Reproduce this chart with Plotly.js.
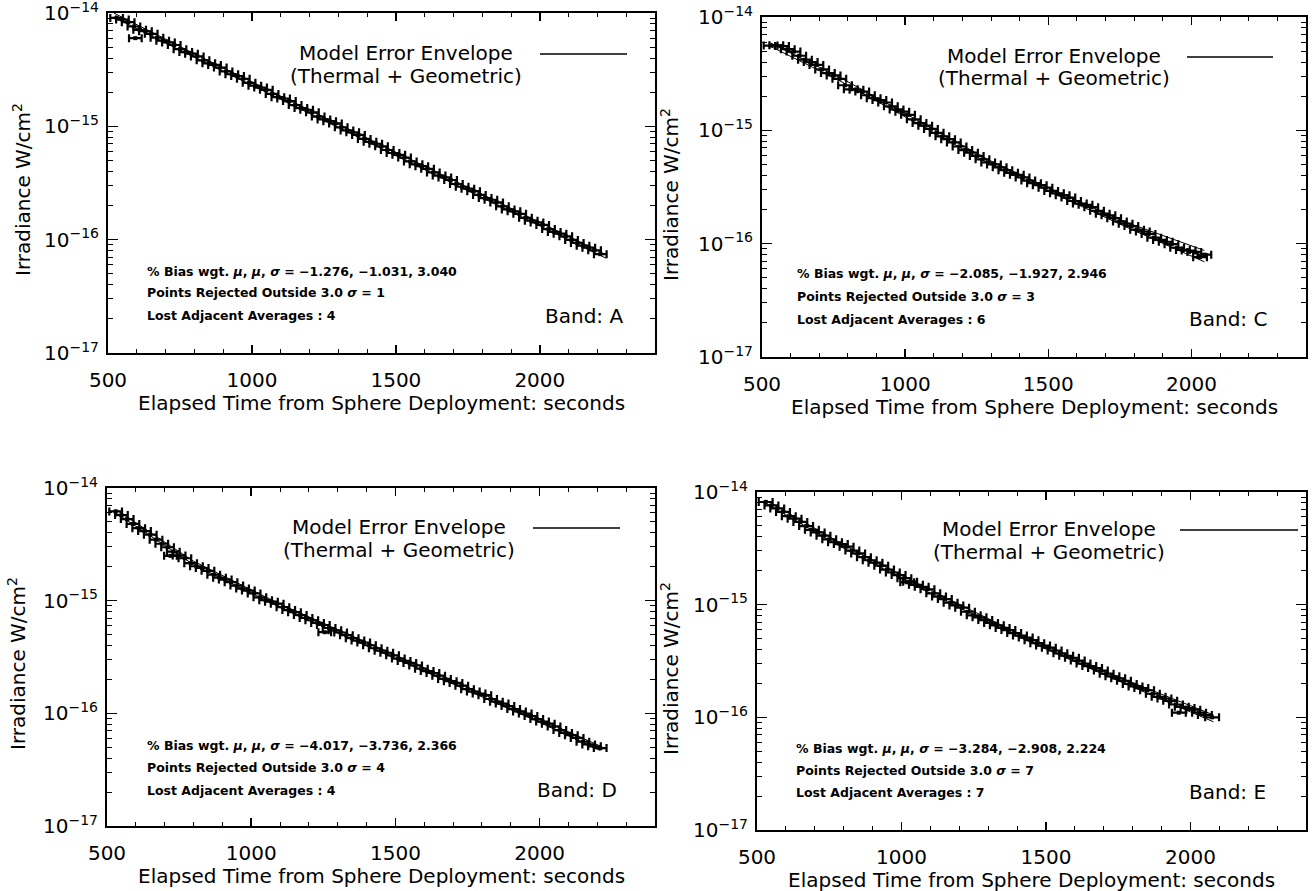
<!DOCTYPE html>
<html>
<head>
<meta charset="utf-8">
<script src="https://cdn.plot.ly/plotly-3.0.1.min.js"></script>
<style>
  html, body { margin: 0; padding: 0; background: #fff; }
  #chart { width: 1312px; height: 891px; }
</style>
</head>
<body>
<div id="chart"></div>
<script>
// ---------------- DATA ----------------
const xTickVals = [500, 1000, 1500, 2000];
const xTickText = ['500', '1000', '1500', '2000'];
const yTickVals = [1e-17, 1e-16, 1e-15, 1e-14];
const yTickText = ['10<sup>−17</sup>', '10<sup>−16</sup>', '10<sup>−15</sup>', '10<sup>−14</sup>'];

// Band A
const tA = [530,550,570,590,610,630,650,670,690,710,730,750,770,790,810,830,850,870,890,910,930,950,970,990,1010,1030,1050,1070,1090,1110,1130,1150,1170,1190,1210,1230,1250,1270,1290,1310,1330,1350,1370,1390,1410,1430,1450,1470,1490,1510,1530,1550,1570,1590,1610,1630,1650,1670,1690,1710,1730,1750,1770,1790,1810,1830,1850,1870,1890,1910,1930,1950,1970,1990,2010,2030,2050,2070,2090,2110,2130,2150,2170,2190,2210,595];
const irrA = [9.05e-15,8.75e-15,8.30e-15,7.60e-15,7.10e-15,6.90e-15,6.55e-15,6.05e-15,5.70e-15,5.50e-15,5.22e-15,4.80e-15,4.52e-15,4.38e-15,4.14e-15,3.82e-15,3.60e-15,3.48e-15,3.30e-15,3.05e-15,2.88e-15,2.78e-15,2.63e-15,2.42e-15,2.28e-15,2.20e-15,2.10e-15,1.93e-15,1.81e-15,1.76e-15,1.67e-15,1.54e-15,1.45e-15,1.40e-15,1.33e-15,1.22e-15,1.15e-15,1.11e-15,1.06e-15,9.80e-16,9.20e-16,8.85e-16,8.40e-16,7.75e-16,7.30e-16,7.02e-16,6.66e-16,6.18e-16,5.82e-16,5.60e-16,5.30e-16,4.90e-16,4.62e-16,4.45e-16,4.22e-16,3.92e-16,3.68e-16,3.54e-16,3.36e-16,3.10e-16,2.93e-16,2.82e-16,2.68e-16,2.48e-16,2.33e-16,2.25e-16,2.13e-16,1.97e-16,1.85e-16,1.78e-16,1.69e-16,1.56e-16,1.47e-16,1.42e-16,1.35e-16,1.24e-16,1.17e-16,1.13e-16,1.07e-16,9.95e-17,9.35e-17,8.85e-17,8.50e-17,8.05e-17,7.45e-17,6.0e-15];
const modelTA  = [520, 800, 1100, 1400, 1700, 2000, 2230];
const modelHiA = [1.0e-14, 4.37e-15, 1.85e-15, 7.87e-16, 3.34e-16, 1.42e-16, 7.36e-17];
const modelLoA = [9.2e-15, 4.07e-15, 1.73e-15, 7.34e-16, 3.12e-16, 1.32e-16, 6.87e-17];
const biasA = [-1.276, -1.031, 3.040];
const rejectedA = 1;
const lostA = 4;

// Band C
const tC = [530,550,570,590,610,630,650,670,690,710,730,750,770,790,810,830,850,870,890,910,930,950,970,990,1010,1030,1050,1070,1090,1110,1130,1150,1170,1190,1210,1230,1250,1270,1290,1310,1330,1350,1370,1390,1410,1430,1450,1470,1490,1510,1530,1550,1570,1590,1610,1630,1650,1670,1690,1710,1730,1750,1770,1790,1810,1830,1850,1870,1890,1910,1930,1950,1970,1990,2010,2030,2045];
const irrC = [5.60e-15,5.62e-15,5.55e-15,5.20e-15,4.95e-15,4.55e-15,4.20e-15,4.00e-15,3.78e-15,3.45e-15,3.20e-15,3.05e-15,2.85e-15,2.50e-15,2.30e-15,2.28e-15,2.20e-15,2.04e-15,1.92e-15,1.85e-15,1.76e-15,1.63e-15,1.53e-15,1.46e-15,1.37e-15,1.25e-15,1.16e-15,1.10e-15,1.03e-15,9.50e-16,8.85e-16,8.35e-16,7.82e-16,7.20e-16,6.70e-16,6.35e-16,5.95e-16,5.55e-16,5.20e-16,5.00e-16,4.72e-16,4.45e-16,4.22e-16,4.05e-16,3.84e-16,3.60e-16,3.42e-16,3.28e-16,3.12e-16,2.92e-16,2.78e-16,2.68e-16,2.55e-16,2.38e-16,2.26e-16,2.20e-16,2.10e-16,1.95e-16,1.84e-16,1.78e-16,1.68e-16,1.57e-16,1.50e-16,1.43e-16,1.33e-16,1.28e-16,1.22e-16,1.13e-16,1.08e-16,1.04e-16,9.90e-17,9.20e-17,8.80e-17,8.70e-17,8.45e-17,7.60e-17,8.00e-17];
const modelTC  = [530, 770, 1050, 1290, 1530, 1770, 2045];
const modelHiC = [5.89e-15, 2.95e-15, 1.20e-15, 5.50e-16, 2.88e-16, 1.55e-16, 8.71e-17];
const modelLoC = [5.50e-15, 2.75e-15, 1.12e-15, 5.13e-16, 2.69e-16, 1.41e-16, 6.92e-17];
const biasC = [-2.085, -1.927, 2.946];
const rejectedC = 3;
const lostC = 6;

// Band D
const tD = [530,550,570,590,610,630,650,670,690,710,730,750,770,790,810,830,850,870,890,910,930,950,970,990,1010,1030,1050,1070,1090,1110,1130,1150,1170,1190,1210,1230,1250,1270,1290,1310,1330,1350,1370,1390,1410,1430,1450,1470,1490,1510,1530,1550,1570,1590,1610,1630,1650,1670,1690,1710,1730,1750,1770,1790,1810,1830,1850,1870,1890,1910,1930,1950,1970,1990,2010,2030,2050,2070,2090,2110,2130,2150,2170,2190,2210,720,1255];
const irrD = [6.20e-15,5.75e-15,5.30e-15,4.80e-15,4.40e-15,4.15e-15,3.85e-15,3.48e-15,3.20e-15,2.98e-15,2.72e-15,2.52e-15,2.38e-15,2.15e-15,2.02e-15,1.95e-15,1.84e-15,1.70e-15,1.60e-15,1.54e-15,1.46e-15,1.36e-15,1.28e-15,1.23e-15,1.16e-15,1.07e-15,1.01e-15,9.80e-16,9.40e-16,8.75e-16,8.25e-16,7.90e-16,7.45e-16,7.02e-16,6.70e-16,6.35e-16,6.08e-16,5.72e-16,5.45e-16,5.22e-16,4.94e-16,4.65e-16,4.42e-16,4.25e-16,4.02e-16,3.78e-16,3.60e-16,3.45e-16,3.27e-16,3.06e-16,2.92e-16,2.80e-16,2.66e-16,2.49e-16,2.37e-16,2.28e-16,2.16e-16,2.02e-16,1.93e-16,1.86e-16,1.76e-16,1.64e-16,1.56e-16,1.50e-16,1.45e-16,1.34e-16,1.27e-16,1.22e-16,1.16e-16,1.09e-16,1.04e-16,9.95e-17,9.45e-17,8.90e-17,8.45e-17,8.10e-17,7.65e-17,7.10e-17,6.70e-17,6.40e-17,6.05e-17,5.60e-17,5.30e-17,5.10e-17,4.92e-17,2.50e-15,5.25e-16];
const modelTD  = [530, 800, 1100, 1400, 1700, 2000, 2210];
const modelHiD = [6.46e-15, 2.24e-15, 9.33e-16, 4.27e-16, 1.95e-16, 8.91e-17, 5.13e-17];
const modelLoD = [6.03e-15, 2.09e-15, 8.71e-16, 3.98e-16, 1.82e-16, 8.32e-17, 4.68e-17];
const biasD = [-4.017, -3.736, 2.366];
const rejectedD = 4;
const lostD = 4;

// Band E
const tE = [530,550,570,590,610,630,650,670,690,710,730,750,770,790,810,830,850,870,890,910,930,950,970,990,1010,1030,1050,1070,1090,1110,1130,1150,1170,1190,1210,1230,1250,1270,1290,1310,1330,1350,1370,1390,1410,1430,1450,1470,1490,1510,1530,1550,1570,1590,1610,1630,1650,1670,1690,1710,1730,1750,1770,1790,1810,1830,1850,1870,1890,1910,1930,1950,1970,1990,2010,2030,2050,1020,1960,2075];
const irrE = [8.15e-15,7.60e-15,7.15e-15,6.65e-15,6.10e-15,5.80e-15,5.42e-15,4.98e-15,4.62e-15,4.38e-15,4.10e-15,3.80e-15,3.58e-15,3.45e-15,3.27e-15,3.02e-15,2.85e-15,2.64e-15,2.48e-15,2.36e-15,2.22e-15,2.05e-15,1.93e-15,1.83e-15,1.72e-15,1.60e-15,1.50e-15,1.44e-15,1.37e-15,1.26e-15,1.18e-15,1.12e-15,1.04e-15,9.85e-16,9.40e-16,8.65e-16,8.05e-16,7.72e-16,7.30e-16,6.88e-16,6.55e-16,6.22e-16,5.95e-16,5.60e-16,5.32e-16,5.10e-16,4.84e-16,4.55e-16,4.33e-16,4.15e-16,3.92e-16,3.70e-16,3.52e-16,3.38e-16,3.19e-16,3.00e-16,2.85e-16,2.74e-16,2.60e-16,2.44e-16,2.31e-16,2.22e-16,2.11e-16,1.98e-16,1.88e-16,1.82e-16,1.74e-16,1.62e-16,1.52e-16,1.47e-16,1.40e-16,1.30e-16,1.24e-16,1.21e-16,1.17e-16,1.10e-16,1.05e-16,1.58e-15,1.10e-16,1.00e-16];
const modelTE  = [530, 800, 1100, 1400, 1700, 2080];
const modelHiE = [8.51e-15, 3.39e-15, 1.35e-15, 5.62e-16, 2.57e-16, 1.05e-16];
const modelLoE = [7.94e-15, 3.16e-15, 1.26e-15, 5.25e-16, 2.40e-16, 9.12e-17];
const biasE = [-3.284, -2.908, 2.224];
const rejectedE = 7;
const lostE = 7;

// ---------------- LAYOUT ----------------
const W = 1312, H = 891;
const FONT = 'DejaVu Sans';
const fx = px => px / W;
const fy = py => 1 - py / H;

const panels = [
  { band: 'A', t: tA, irr: irrA, mt: modelTA, mhi: modelHiA, mlo: modelLoA, bias: biasA, rej: rejectedA, lost: lostA,
    box: [108, 655, 13, 353], leg: { cx: 406, y1: 53, y2: 75.5, lx0: 540, lx1: 627, ly: 54 },
    statsX: 145, statsY: [271, 293, 316], bandR: 625, bandY: 316, ytX: 22, errw: 22 },
  { band: 'C', t: tC, irr: irrC, mt: modelTC, mhi: modelHiC, mlo: modelLoC, bias: biasC, rej: rejectedC, lost: lostC,
    box: [762, 1306, 17, 357], leg: { cx: 1054, y1: 56, y2: 78.5, lx0: 1187, lx1: 1273, ly: 57 },
    statsX: 795, statsY: [274, 297, 320], bandR: 1269, bandY: 319, ytX: 670, errw: 24 },
  { band: 'D', t: tD, irr: irrD, mt: modelTD, mhi: modelHiD, mlo: modelLoD, bias: biasD, rej: rejectedD, lost: lostD,
    box: [107, 655, 488, 826], leg: { cx: 399, y1: 527, y2: 549.5, lx0: 533, lx1: 620, ly: 528 },
    statsX: 145, statsY: [745, 767, 790], bandR: 619, bandY: 790, ytX: 17, errw: 22 },
  { band: 'E', t: tE, irr: irrE, mt: modelTE, mhi: modelHiE, mlo: modelLoE, bias: biasE, rej: rejectedE, lost: lostE,
    box: [757, 1306, 492, 830], leg: { cx: 1049, y1: 529, y2: 551.5, lx0: 1180, lx1: 1298, ly: 530 },
    statsX: 794, statsY: [748, 770, 792], bandR: 1268, bandY: 792, ytX: 670, errw: 24 }
];

const minorY = [];
for (let e = -17; e < -14; e++) for (let m = 2; m <= 9; m++) minorY.push(m * Math.pow(10, e));

const fmt = v => (v < 0 ? '−' : '') + Math.abs(v).toFixed(3);

const traces = [];
const layout = {
  width: W, height: H, autosize: false,
  margin: { l: 0, r: 0, t: 0, b: 0 },
  paper_bgcolor: '#fff', plot_bgcolor: '#fff',
  showlegend: false,
  font: { family: FONT, color: '#000' },
  annotations: [], shapes: []
};

panels.forEach((p, i) => {
  const n = i === 0 ? '' : String(i + 1);
  const xa = 'x' + n, ya = 'y' + n;
  const [x0, x1, y0, y1] = p.box;

  layout['xaxis' + n] = {
    domain: [fx(x0), fx(x1)], anchor: ya, range: [500, 2400],
    tickmode: 'array', tickvals: xTickVals, ticktext: xTickText,
    ticks: 'inside', ticklen: 8, tickwidth: 1.5, tickcolor: '#000',
    minor: { ticks: 'inside', dtick: 100, tick0: 500, ticklen: 4, tickwidth: 1, tickcolor: '#000' },
    showline: true, linewidth: 2, linecolor: '#000', mirror: 'ticks',
    showgrid: false, zeroline: false, fixedrange: true,
    tickfont: { family: FONT, size: 20, color: '#000' }, ticklabelstandoff: 8,
    ticklabeloverflow: 'allow'
  };
  layout['yaxis' + n] = {
    domain: [fy(y1), fy(y0)], anchor: xa, type: 'log', range: [-17, -14],
    tickmode: 'array', tickvals: yTickVals, ticktext: yTickText,
    ticks: 'inside', ticklen: 10, tickwidth: 1.5, tickcolor: '#000',
    minor: { ticks: 'inside', tickmode: 'array', tickvals: minorY, ticklen: 5, tickwidth: 1, tickcolor: '#000' },
    showline: true, linewidth: 2, linecolor: '#000', mirror: 'ticks',
    showgrid: false, zeroline: false, fixedrange: true,
    tickfont: { family: FONT, size: 20, color: '#000' }, ticklabelstandoff: 3,
    ticklabeloverflow: 'allow'
  };

  // data with horizontal error bars
  traces.push({
    type: 'scatter', mode: 'markers', x: p.t, y: p.irr, xaxis: xa, yaxis: ya,
    marker: { size: 4, color: '#000', symbol: 'square' },
    error_x: { type: 'constant', value: p.errw, width: 4, thickness: 2.2, color: '#000' },
    hoverinfo: 'skip', cliponaxis: true
  });
  // model error envelope lines
  traces.push({ type: 'scatter', mode: 'lines', x: p.mt, y: p.mhi, xaxis: xa, yaxis: ya,
    line: { color: '#000', width: 1 }, hoverinfo: 'skip' });
  traces.push({ type: 'scatter', mode: 'lines', x: p.mt, y: p.mlo, xaxis: xa, yaxis: ya,
    line: { color: '#000', width: 1 }, hoverinfo: 'skip' });

  const big = { family: FONT, size: 20, color: '#000' };
  const small = { family: FONT, size: 12.5, color: '#000' };
  const A = layout.annotations;
  A.push({ xref: 'paper', yref: 'paper', x: fx(p.leg.cx), y: fy(p.leg.y1), xanchor: 'center', yanchor: 'middle',
    text: 'Model Error Envelope', showarrow: false, font: big });
  A.push({ xref: 'paper', yref: 'paper', x: fx(p.leg.cx), y: fy(p.leg.y2), xanchor: 'center', yanchor: 'middle',
    text: '(Thermal + Geometric)', showarrow: false, font: big });
  layout.shapes.push({ type: 'line', xref: 'paper', yref: 'paper', x0: fx(p.leg.lx0), x1: fx(p.leg.lx1),
    y0: fy(p.leg.ly), y1: fy(p.leg.ly), line: { color: '#000', width: 1.5 } });

  const lines = [
    '<b>% Bias wgt. <i>μ</i>, <i>μ</i>, <i>σ</i> = ' + p.bias.map(fmt).join(', ') + '</b>',
    '<b>Points Rejected Outside 3.0 <i>σ</i> = ' + p.rej + '</b>',
    '<b>Lost Adjacent Averages : ' + p.lost + '</b>'
  ];
  lines.forEach((txt, k) => A.push({ xref: 'paper', yref: 'paper', x: fx(p.statsX), y: fy(p.statsY[k]),
    xanchor: 'left', yanchor: 'middle', text: txt, showarrow: false, font: small }));
  A.push({ xref: 'paper', yref: 'paper', x: fx(p.bandR), y: fy(p.bandY), xanchor: 'right', yanchor: 'middle',
    text: 'Band: ' + p.band, showarrow: false, font: big });

  // axis titles
  A.push({ xref: 'paper', yref: 'paper', x: fx((x0 + x1) / 2), y: fy(y1 + 50), xanchor: 'center', yanchor: 'middle',
    text: 'Elapsed Time from Sphere Deployment: seconds', showarrow: false, font: big });
  A.push({ xref: 'paper', yref: 'paper', x: fx(p.ytX), y: fy((y0 + y1) / 2 + 7), xanchor: 'center', yanchor: 'middle',
    textangle: -90, text: 'Irradiance W/cm<sup>2</sup>', showarrow: false, font: big });
});

Plotly.newPlot('chart', traces, layout, { staticPlot: true, displayModeBar: false });
</script>
</body>
</html>
